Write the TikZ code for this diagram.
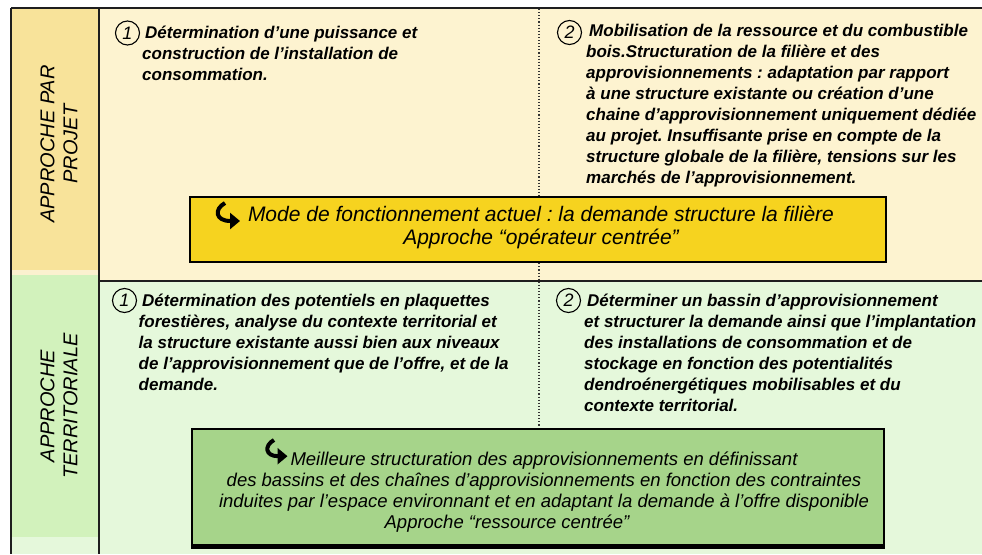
\documentclass[tikz,border=0pt]{standalone}
\usepackage{fontspec}
\setmainfont{Liberation Sans}
\usetikzlibrary{arrows.meta}
\frenchspacing
\definecolor{creamtop}{HTML}{FDF3D0}
\definecolor{colyellow}{HTML}{F8E39A}
\definecolor{stripyel}{HTML}{FBF1CF}
\definecolor{greenbot}{HTML}{E5F8DB}
\definecolor{colgreen}{HTML}{D2F2BC}
\definecolor{boxyellow}{HTML}{F6D31F}
\definecolor{boxgreen}{HTML}{A6D48A}
\definecolor{rulecol}{HTML}{1E1E1E}
\tikzset{
  hookarrow/.pic={
    \draw[line width=4pt, -{Triangle[length=10pt,width=16pt]}]
      (10,0) .. controls (-1,6) and (0,18) .. (25,18);
  }
}
\begin{document}
\begin{tikzpicture}[x=1pt,y=-1pt,
  itemtext/.style={anchor=base west, align=left, inner sep=0pt,
    font=\fontsize{17}{21}\selectfont\bfseries\itshape},
  numcirc/.style={circle, draw=black, line width=1.1pt, minimum size=24pt,
    inner sep=0pt, font=\fontsize{18}{18}\selectfont\itshape},
  sidelabel/.style={rotate=90, align=center, inner sep=0pt,
    font=\fontsize{20}{23}\selectfont\itshape},
  gridline/.style={draw=rulecol, line width=2pt},
  sepdots/.style={draw=black!80, line width=1.1pt, dotted},
  keybox/.style={draw=black, line width=2.5pt, inner sep=0pt},
  boxtext/.style={anchor=base, align=center, inner sep=0pt}
]
\useasboundingbox (0,0) rectangle (982,554);
% backgrounds
\fill[white] (0,0) rectangle (982,554);
\fill[creamtop] (99,9) rectangle (982,281);
\fill[greenbot] (99,281) rectangle (982,554);
\fill[colyellow] (12,9) rectangle (98,270);
\fill[stripyel] (12,270) rectangle (98,275);
\fill[colgreen] (12,275) rectangle (98,537);
\fill[greenbot] (12,537) rectangle (98,554);
% grid
\coordinate (tl) at (11,8);
\coordinate (tr) at (982,8);
\coordinate (bl) at (11,554);
\coordinate (ct) at (98.5,8);
\coordinate (cb) at (98.5,554);
\coordinate (rl) at (98.5,281);
\coordinate (rr) at (982,281);
\coordinate (dt) at (539,9);
\coordinate (db) at (539,426);
\draw[sepdots] (dt) -- (db);
\draw[gridline] (tl) -- (tr);
\draw[gridline] (tl) -- (bl);
\draw[gridline] (ct) -- (cb);
\draw[gridline] (rl) -- (rr);
% side labels
\node[sidelabel] (lab1) at (59,144) {APPROCHE PAR\\PROJET};
\node[sidelabel] (lab2) at (59,406) {APPROCHE\\TERRITORIALE};
% top items (anchor = baseline of last line)
\node[numcirc] (c1t) at (127.5,33) {1};
\node[itemtext] (t1t) at (142,80) {\hspace*{3pt}Détermination d’une puissance et\\
construction de l’installation de\\
consommation.};
\node[numcirc] (c2t) at (569.5,32.5) {2};
\node[itemtext] (t2t) at (586,183.5) {\hspace*{3pt}Mobilisation de la ressource et du combustible\\
bois.Structuration de la filière et des\\
approvisionnements : adaptation par rapport\\
à une structure existante ou création d’une\\
chaine d’approvisionnement uniquement dédiée\\
au projet. Insuffisante prise en compte de la\\
structure globale de la filière, tensions sur les\\
marchés de l’approvisionnement.};
% bottom items
\node[numcirc] (c1b) at (124.5,300.5) {1};
\node[itemtext] (t1b) at (138.5,390.5) {\hspace*{3.5pt}Détermination des potentiels en plaquettes\\
forestières, analyse du contexte territorial et\\
la structure existante aussi bien aux niveaux\\
de l’approvisionnement que de l’offre, et de la\\
demande.};
\node[numcirc] (c2b) at (568.5,300.5) {2};
\node[itemtext] (t2b) at (584,411.5) {\hspace*{3pt}Déterminer un bassin d’approvisionnement\\
et structurer la demande ainsi que l’implantation\\
des installations de consommation et de\\
stockage en fonction des potentialités\\
dendroénergétiques mobilisables et du\\
contexte territorial.};
% yellow box
\node[keybox, fill=boxyellow, minimum width=696pt, minimum height=65pt] (ybox) at (538,229.5) {};
\node[boxtext, font=\fontsize{21}{23}\selectfont\itshape] (ytext) at (541,244)
  {Mode de fonctionnement actuel : la demande structure la filière\\
   Approche “opérateur centrée”};
\pic at (215,203) {hookarrow};
% green box
\node[keybox, fill=boxgreen, minimum width=692pt, minimum height=116pt] (gbox) at (538,487) {};
\draw[line width=4pt] ([yshift=-0.5pt]gbox.south west) -- ([yshift=-0.5pt]gbox.south east);
\node[boxtext, font=\fontsize{18.5}{21}\selectfont\itshape] (gtext) at (544,528)
  {Meilleure structuration des approvisionnements en définissant\\
   des bassins et des chaînes d’approvisionnements en fonction des contraintes\\
   induites par l’espace environnant et en adaptant la demande à l’offre disponible\\
   Approche “ressource centrée”\hspace*{74pt}};
\pic[scale=0.9] at (265,440) {hookarrow};
\end{tikzpicture}
\end{document}
